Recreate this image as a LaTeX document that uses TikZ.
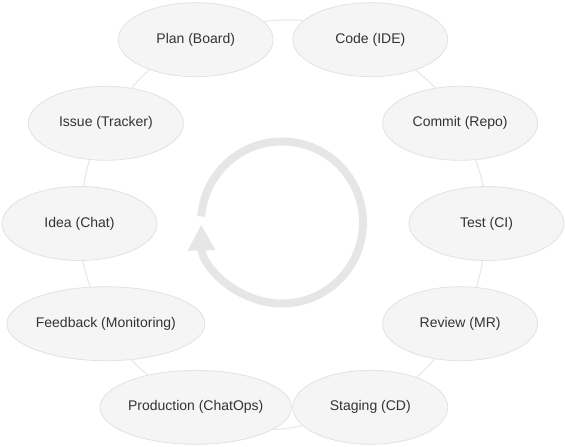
\documentclass[tikz,border=0pt]{standalone}
\usepackage{fontspec}
\usepackage{tikz}
\usepackage{xcolor}
\usetikzlibrary{calc}
\usetikzlibrary{shapes.geometric}
\usetikzlibrary{arrows.meta}
\setmainfont{Liberation Sans}
\definecolor{stagefille}{HTML}{F5F5F5}
\definecolor{stagelinee}{HTML}{E2E2E2}
\definecolor{ringlinee}{HTML}{E6E6E6}
\definecolor{stagetexte}{HTML}{333333}
\colorlet{spincolor}{ringlinee}
\tikzstyle{stagebox} =[
    ellipse,
    draw=stagelinee,
    fill=stagefille,
    line width=0.8pt,
    text=stagetexte,
    font=\fontsize{14}{16}\selectfont,
    minimum width=155pt,
    minimum height=74pt,
    inner sep=0pt
    ]
\tikzstyle{ring} = [
    draw=ringlinee,
    line width=1pt,
    looseness=0.87
    ]
\tikzstyle{spin} = [
    draw=spincolor,
    line width=8pt,
    -{Triangle[length=26pt,width=26pt]}
    ]

\begin{document}
\begin{tikzpicture}[x=1pt,y=1pt]
\useasboundingbox (0,0) rectangle (565,447);
\coordinate (hub) at (283,223.5);
\coordinate (spinhub) at (282,224.5);

% stages round the ring
\node[stagebox] (test) at ($(hub)+(0:203.5)$) {Test (CI)};
\node[stagebox] (commit) at ($(hub)+(29.5:203.5)$) {Commit (Repo)};
\node[stagebox] (code) at ($(hub)+(64.6:203.5)$) {Code (IDE)};
\node[stagebox] (plan) at ($(hub)+(115.4:203.5)$) {Plan (Board)};
\node[stagebox] (issue) at ($(hub)+(150.5:203.5)$) {Issue (Tracker)};
\node[stagebox] (idea) at ($(hub)+(180:203.5)$) {Idea (Chat)};
\node[stagebox] (feedback) at ($(hub)+(209.5:203.5)$) {Feedback (Monitoring)};
\node[stagebox] (production) at ($(hub)+(244.6:203.5)$) {Production (ChatOps)};
\node[stagebox] (staging) at ($(hub)+(295.4:203.5)$) {Staging (CD)};
\node[stagebox] (review) at ($(hub)+(330.5:203.5)$) {Review (MR)};

% ring between stages (anchors where the ring leaves each ellipse)
\draw[ring] (test.264.8) to[bend left=3.9] (review.66.1);
\draw[ring] (review.234.4) to[bend left=3.75] (staging.33.1);
\draw[ring] (staging.195.6) to[bend left=5.76] (production.344.4);
\draw[ring] (production.146.9) to[bend left=3.75] (feedback.305.6);
\draw[ring] (feedback.113.9) to[bend left=3.9] (idea.275.2);
\draw[ring] (idea.84.8) to[bend left=3.9] (issue.246.1);
\draw[ring] (issue.54.4) to[bend left=3.75] (plan.213.1);
\draw[ring] (plan.15.6) to[bend left=5.76] (code.164.4);
\draw[ring] (code.326.9) to[bend left=3.75] (commit.125.6);
\draw[ring] (commit.293.9) to[bend left=3.9] (test.95.2);

% cycle arrow
\draw[spin] ($(spinhub)+(175.7:81)$) arc[start angle=175.7, end angle=-178.6, radius=81];
\end{tikzpicture}
\end{document}
